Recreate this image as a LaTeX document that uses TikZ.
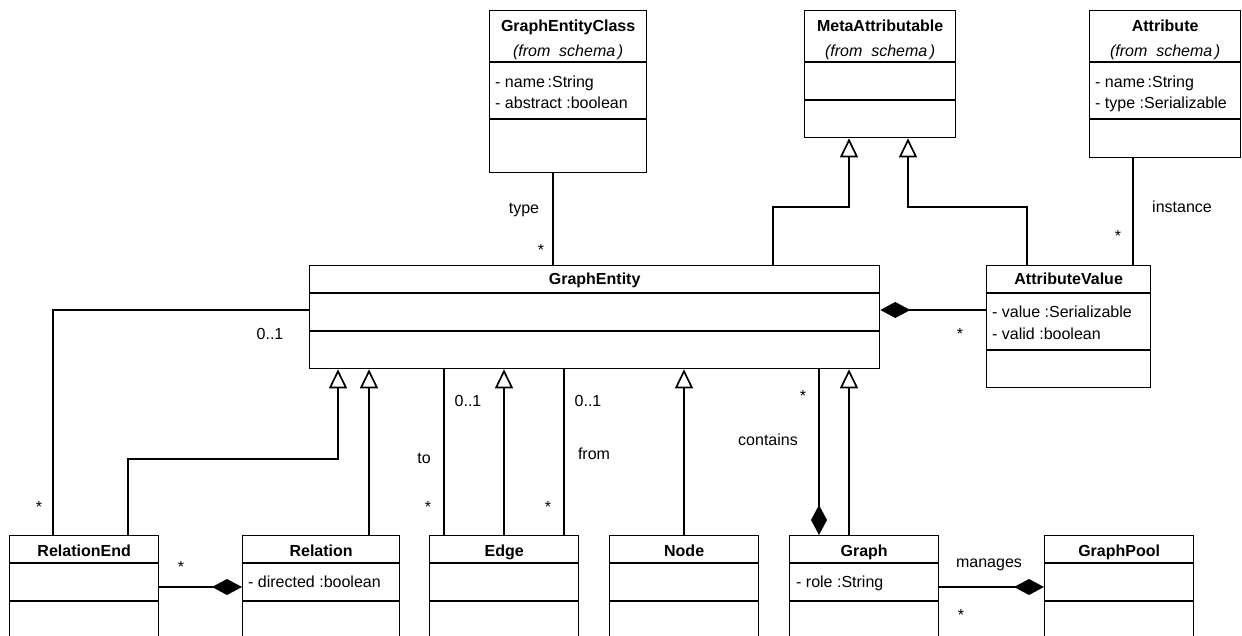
\documentclass[tikz,border=0pt]{standalone}
\usepackage{fontspec}
\setmainfont{Liberation Sans}
\usetikzlibrary{arrows.meta}
\begin{document}
\begin{tikzpicture}[x=1pt,y=-1pt,
  every node/.style={inner sep=0pt, font=\fontsize{16}{19}\selectfont, text height=12pt, text depth=3.5pt},
  classbox/.style={draw, line width=1.3pt, fill=white, anchor=north west, inner sep=0pt, text height=, text depth=},
  sepline/.style={line width=2.2pt},
  conn/.style={line width=1.7pt},
  cname/.style={font=\fontsize{16}{19}\selectfont\bfseries},
  origin/.style={font=\fontsize{16}{19}\selectfont\itshape},
  attr/.style={anchor=west},
  lbl/.style={},
  mult/.style={},
  inherit/.style={conn, -{Triangle[open, width=18pt, length=19pt]}},
  compose/.style={conn, {Diamond[width=16pt, length=30pt]}-},
]
\clip (0,0) rectangle (1242,636);
\fill[white] (0,0) rectangle (1242,636);

% ---------- classes of the schema package ----------
\node[classbox, minimum width=157pt, minimum height=162pt] (gec) at (489,10) {};
\draw[sepline] (gec.west |- 0,62) -- (gec.east |- 0,62);
\draw[sepline] (gec.west |- 0,119) -- (gec.east |- 0,119);
\node[cname]  (gecT) at (gec.north |- 0,27) {GraphEntityClass};
\node[origin] (gecO) at (gec.north |- 0,52) {(from\ \ schema\,)};
\node[attr] (gecA1) at (495,83) {- name\,:String};
\node[attr] (gecA2) at (495,104) {- abstract :boolean};

\node[classbox, minimum width=151pt, minimum height=127pt] (ma) at (804,10) {};
\draw[sepline] (ma.west |- 0,62) -- (ma.east |- 0,62);
\draw[sepline] (ma.west |- 0,100) -- (ma.east |- 0,100);
\node[cname]  (maT) at (ma.north |- 0,27) {MetaAttributable};
\node[origin] (maO) at (ma.north |- 0,52) {(from\ \ schema\,)};

\node[classbox, minimum width=151pt, minimum height=147pt] (at) at (1089,10) {};
\draw[sepline] (at.west |- 0,62) -- (at.east |- 0,62);
\draw[sepline] (at.west |- 0,119) -- (at.east |- 0,119);
\node[cname]  (atT) at (at.north |- 0,27) {Attribute};
\node[origin] (atO) at (at.north |- 0,52) {(from\ \ schema\,)};
\node[attr] (atA1) at (1095,83) {- name\,:String};
\node[attr] (atA2) at (1095,104) {- type :Serializable};

% ---------- middle row ----------
\node[classbox, minimum width=570pt, minimum height=103pt] (ge) at (309,265) {};
\draw[sepline] (ge.west |- 0,293) -- (ge.east |- 0,293);
\draw[sepline] (ge.west |- 0,331) -- (ge.east |- 0,331);
\node[cname] (geT) at (ge.north |- 0,280) {GraphEntity};

\node[classbox, minimum width=164pt, minimum height=122pt] (av) at (986,265) {};
\draw[sepline] (av.west |- 0,293) -- (av.east |- 0,293);
\draw[sepline] (av.west |- 0,350) -- (av.east |- 0,350);
\node[cname] (avT) at (av.north |- 0,280) {AttributeValue};
\node[attr] (avA1) at (992,313) {- value :Serializable};
\node[attr] (avA2) at (992,335) {- valid :boolean};

% ---------- bottom row ----------
\node[classbox, minimum width=149pt, minimum height=125pt] (re) at (9,535) {};
\node[classbox, minimum width=157pt, minimum height=125pt] (rel) at (242,535) {};
\node[classbox, minimum width=149pt, minimum height=125pt] (edge) at (429,535) {};
\node[classbox, minimum width=149pt, minimum height=125pt] (node) at (609,535) {};
\node[classbox, minimum width=149pt, minimum height=125pt] (graph) at (789,535) {};
\node[classbox, minimum width=149pt, minimum height=125pt] (gp) at (1044,535) {};
\foreach \b in {re,rel,edge,node,graph,gp}{
  \draw[sepline] (\b.west |- 0,563) -- (\b.east |- 0,563);
  \draw[sepline] (\b.west |- 0,601) -- (\b.east |- 0,601);
}
\node[cname] (reT)    at (re.north |- 0,552)    {RelationEnd};
\node[cname] (relT)   at (rel.north |- 0,552)   {Relation};
\node[cname] (edgeT)  at (edge.north |- 0,552)  {Edge};
\node[cname] (nodeT)  at (node.north |- 0,552)  {Node};
\node[cname] (graphT) at (graph.north |- 0,552) {Graph};
\node[cname] (gpT)    at (gp.north |- 0,552)    {GraphPool};
\node[attr] (relA1)   at (248,583) {- directed :boolean};
\node[attr] (graphA1) at (796,583) {- role :String};

% ---------- associations ----------
\draw[conn] (553,0 |- gec.south) -- (553,0 |- ge.north);
\node[lbl]  (lType) at (524,209) {type};
\node[mult] (mType) at (541,251) {*};

\draw[conn] (1133,0 |- at.south) -- (1133,0 |- av.north);
\node[lbl]  (lInst) at (1182,208) {instance};
\node[mult] (mInst) at (1118,237) {*};

\draw[compose] (ge.east |- 0,310) -- (av.west |- 0,310);
\node[mult] (mAv) at (960,335) {*};

\draw[conn] (ge.west |- 0,310) -| (53,0 |- re.north);
\node[lbl]  (lRe1) at (270,335) {0..1};
\node[mult] (mRe)  at (39,508) {*};

\draw[compose] (rel.west |- 0,587) -- (re.east |- 0,587);
\node[mult] (mRel) at (181,568) {*};

\draw[conn] (444,0 |- edge.north) -- (444,0 |- ge.south);
\node[lbl]  (lTo1) at (468,402) {0..1};
\node[lbl]  (lTo)  at (424,459) {to};
\node[mult] (mTo)  at (428,508) {*};

\draw[conn] (564,0 |- edge.north) -- (564,0 |- ge.south);
\node[lbl]  (lFrom1) at (588,402) {0..1};
\node[lbl]  (lFrom)  at (594,455) {from};
\node[mult] (mFrom)  at (548,508) {*};

\draw[compose] (819,0 |- graph.north) -- (819,0 |- ge.south);
\node[mult] (mCont) at (803,397) {*};
\node[lbl]  (lCont) at (768,441) {contains};

\draw[compose] (gp.west |- 0,587) -- (graph.east |- 0,587);
\node[lbl]  (lMan) at (989,563) {manages};
\node[mult] (mMan) at (961,616) {*};

% ---------- generalisations ----------
\draw[inherit] (773,0 |- ge.north) |- (849,207) -- (849,0 |- ma.south);
\draw[inherit] (1027,0 |- av.north) |- (908,207) -- (908,0 |- ma.south);
\draw[inherit] (128,0 |- re.north) |- (338,459) -- (338,0 |- ge.south);
\draw[inherit] (369,0 |- rel.north) -- (369,0 |- ge.south);
\draw[inherit] (504,0 |- edge.north) -- (504,0 |- ge.south);
\draw[inherit] (684,0 |- node.north) -- (684,0 |- ge.south);
\draw[inherit] (849,0 |- graph.north) -- (849,0 |- ge.south);
\end{tikzpicture}
\end{document}
